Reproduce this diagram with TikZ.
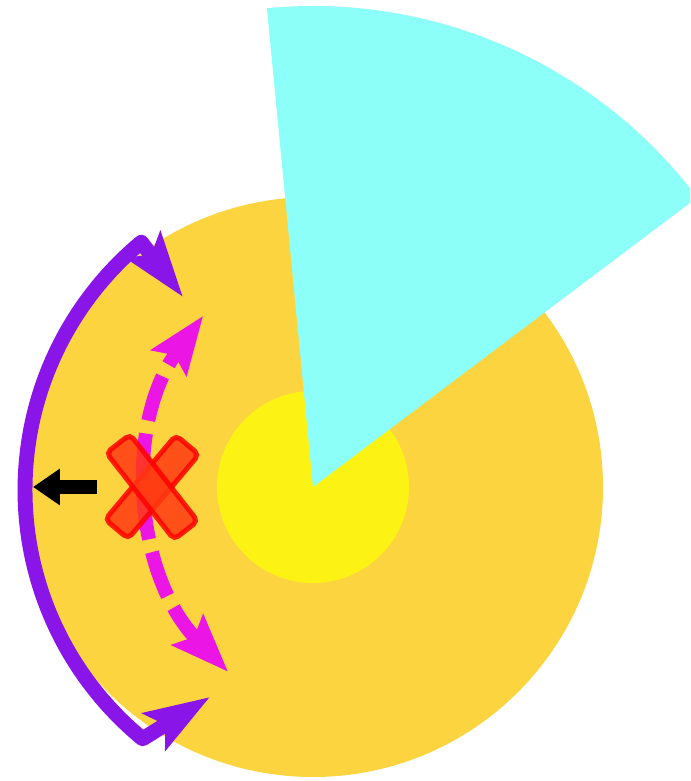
\documentclass[tikz,border=0pt]{standalone}
\usepackage{xcolor}
\usepackage{tikz}
\usetikzlibrary{arrows.meta}
\definecolor{disc}{HTML}{FCD440}
\definecolor{core}{HTML}{FCF214}
\definecolor{beam}{HTML}{8CFFF8}
\definecolor{swing}{HTML}{8A15E8}
\definecolor{drift}{HTML}{EB15E5}
\definecolor{cross}{HTML}{FF3A12}

\begin{document}
\begin{tikzpicture}[x=0.02cm, y=0.02cm,
  swingarc/.style={draw=swing, line width=8.5pt, line join=round,
    {Stealth[length=1.3cm, width=0.85cm, inset=0.25cm]}-{Stealth[length=1.3cm, width=0.85cm, inset=0.25cm]}},
  driftarc/.style={draw=drift, line width=7.9pt, dash pattern=on 26.5pt off 7.5pt, dash phase=4pt,
    {Stealth[length=1.15cm, width=0.85cm, inset=0.18cm]}-{Stealth[length=1.15cm, width=0.85cm, inset=0.18cm]}},
  xbar/.style={rectangle, rounded corners=3pt, minimum width=2.2cm, minimum height=0.6cm,
    fill=cross, draw=red, line width=2.8pt, opacity=0.85},
  push/.style={draw=black, line width=8.5pt, -{Triangle[length=0.54cm, width=0.7cm]}}
]
\useasboundingbox (0,0) rectangle (690,781);
\clip (0,0) rectangle (690,781);

% disc, core and the beam
\coordinate (c) at (313,294);
\fill[disc] (c) circle (290);
\fill[core] (c) circle (96);
\fill[beam] (c) -- ++(37:481) arc[start angle=37, end angle=95.5, radius=481] -- cycle;

% outer swing
\coordinate (pc) at (347,291);
\coordinate (ptop) at (183,484);
\coordinate (pbot) at (210,84);
\path (pc) ++(230.6:322) coordinate (pbend);
\draw[swingarc] (pbot) -- (pbend) arc[start angle=230.6, end angle=129.7, radius=322] -- (ptop);

% inner drift
\coordinate (mc) at (427,302);
\path (mc) ++(224.1:277) coordinate (mbot);
\draw[driftarc] (mbot) arc[start angle=224.1, end angle=143.9, radius=277];

% the cross
\node[xbar, rotate=50] (xa) at (152,294) {};
\node[xbar, rotate=-52] (xb) at (152,294) {};

% push to the rim
\coordinate (kick) at (97,294);
\coordinate (rim) at (33,294);
\draw[push] (kick) -- (rim);

\end{tikzpicture}
\end{document}
